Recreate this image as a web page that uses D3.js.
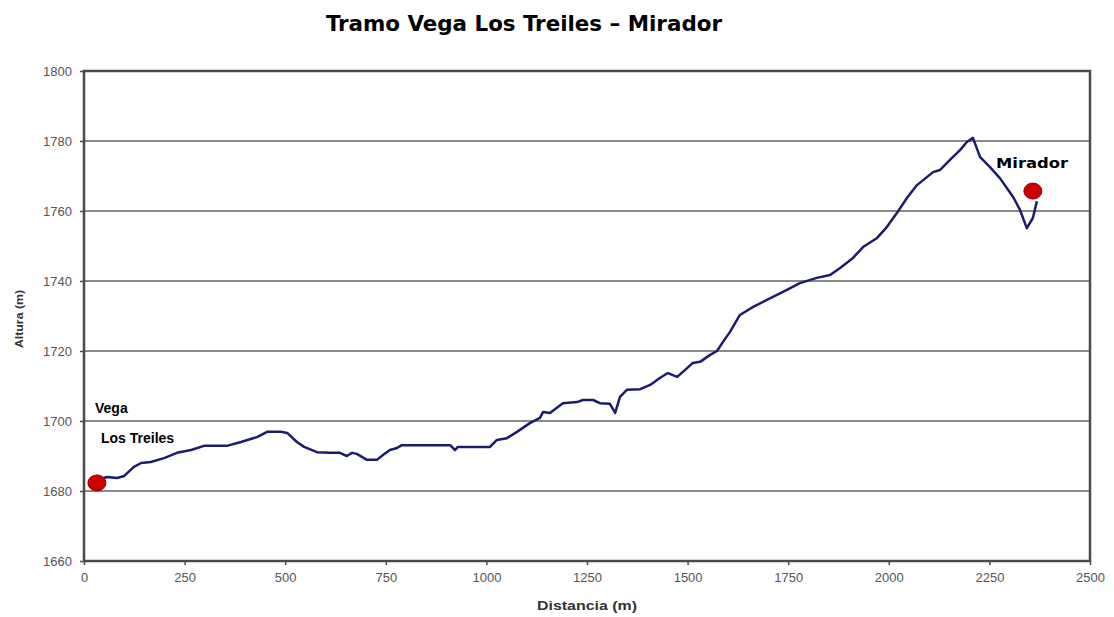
<!DOCTYPE html>
<html>
<head>
<meta charset="utf-8">
<script src="https://cdn.jsdelivr.net/npm/d3@7"></script>
<style>
  body { margin: 0; background: #fff; }
  svg { display: block; }
</style>
</head>
<body>
<svg></svg>
<script>
// profile: distance (m) and altitude (m)
var distancia = [32, 57, 82, 100, 124, 142, 166, 199, 231, 266, 298, 355, 390, 430, 455, 489, 505, 529, 547, 579, 611,
  636, 653, 666, 678, 703, 728, 743, 760, 778, 790, 910, 922, 929, 1009, 1026, 1051, 1076, 1108, 1133, 1141, 1158,
  1190, 1225, 1240, 1265, 1282, 1307, 1320, 1332, 1349, 1382, 1407, 1431, 1451, 1474, 1494, 1513, 1531, 1556, 1573,
  1588, 1605, 1630, 1663, 1697, 1737, 1779, 1821, 1854, 1879, 1911, 1936, 1971, 1995, 2020, 2045, 2070, 2110, 2127,
  2152, 2177, 2194, 2209, 2227, 2251, 2276, 2309, 2326, 2343, 2358, 2368];
var altura = [1683, 1684, 1683.7, 1684.3, 1686.9, 1688, 1688.3, 1689.4, 1690.9, 1691.7, 1692.9, 1692.9, 1694, 1695.4,
  1696.9, 1696.9, 1696.6, 1694, 1692.6, 1691.1, 1690.9, 1690.9, 1690, 1690.9, 1690.6, 1688.9, 1688.9, 1690.3, 1691.7,
  1692.3, 1693.1, 1693.1, 1691.7, 1692.6, 1692.6, 1694.6, 1695.1, 1696.9, 1699.4, 1700.9, 1702.6, 1702.3, 1705.1,
  1705.4, 1706, 1706, 1705.1, 1704.9, 1702.3, 1706.9, 1708.9, 1709.1, 1710.3, 1712.3, 1713.7, 1712.6, 1714.6, 1716.6,
  1716.9, 1718.9, 1720, 1722.6, 1725.4, 1730.3, 1732.6, 1734.6, 1736.9, 1739.4, 1740.9, 1741.7, 1743.7, 1746.6,
  1749.7, 1752.3, 1755.4, 1759.4, 1763.7, 1767.4, 1771.1, 1771.7, 1774.6, 1777.4, 1779.7, 1780.9, 1775.4, 1772.6,
  1769.4, 1764, 1760.3, 1755.1, 1758, 1762.8];

// start and end points
var puntos = [{d: 32, a: 1682.3}, {d: 2358, a: 1765.7}];

var xTicks = [0, 250, 500, 750, 1000, 1250, 1500, 1750, 2000, 2250, 2500];
var yTicks = [1660, 1680, 1700, 1720, 1740, 1760, 1780, 1800];

var svgWidth = 1114, svgHeight = 617;
var plotL = 84, plotR = 1090, plotT = 71, plotB = 561;

var svg = d3.select('svg')
    .attr('width', svgWidth)
    .attr('height', svgHeight);

var x = d3.scaleLinear().domain([0, 2500]).range([plotL, plotR]);
var y = d3.scaleLinear().domain([1660, 1800]).range([plotB, plotT]);

// gridlines
svg.selectAll('line.grid')
    .data(yTicks.slice(1, -1))
    .enter()
    .append('line')
    .attr('class', 'grid')
    .attr('x1', plotL).attr('x2', plotR)
    .attr('y1', function(d) { return y(d); })
    .attr('y2', function(d) { return y(d); })
    .attr('stroke', '#8a8a8a')
    .attr('stroke-width', 2);

// plot frame
svg.append('rect')
    .attr('x', plotL).attr('y', plotT)
    .attr('width', plotR - plotL).attr('height', plotB - plotT)
    .attr('fill', 'none')
    .attr('stroke', '#4a4a4a')
    .attr('stroke-width', 2.5);

// axes
var yAxis = svg.append('g')
    .attr('transform', 'translate(' + plotL + ',0)')
    .call(d3.axisLeft(y).tickValues(yTicks).tickSize(4).tickPadding(8).tickFormat(d3.format('d')));
var xAxis = svg.append('g')
    .attr('transform', 'translate(0,' + plotB + ')')
    .call(d3.axisBottom(x).tickValues(xTicks).tickSize(4).tickPadding(8).tickFormat(d3.format('d')));

[xAxis, yAxis].forEach(function(g) {
    g.select('.domain').remove();
    g.selectAll('line').attr('stroke', '#4a4a4a').attr('stroke-width', 1.5);
    g.selectAll('text')
        .attr('fill', '#555')
        .style('font-family', 'Liberation Sans, Arial, sans-serif')
        .style('font-size', '13px');
});

// profile line
var line = d3.line()
    .x(function(d, i) { return x(distancia[i]); })
    .y(function(d) { return y(d); });

svg.append('path')
    .datum(altura)
    .attr('d', line)
    .attr('fill', 'none')
    .attr('stroke', '#1c1c6e')
    .attr('stroke-width', 2.5)
    .attr('stroke-linejoin', 'round');

// red markers
svg.selectAll('ellipse')
    .data(puntos)
    .enter()
    .append('ellipse')
    .attr('cx', function(d) { return x(d.d); })
    .attr('cy', function(d) { return y(d.a); })
    .attr('rx', 9).attr('ry', 8)
    .attr('fill', '#cc0000')
    .attr('stroke', '#990000')
    .attr('stroke-width', 1);

// point labels
svg.append('text').attr('x', 95).attr('y', 413).text('Vega')
    .style('font', 'bold 14px Liberation Sans, Arial, sans-serif');
svg.append('text').attr('x', 101).attr('y', 443).text('Los Treiles')
    .style('font', 'bold 14px Liberation Sans, Arial, sans-serif');
svg.append('text').attr('x', 996).attr('y', 168).text('Mirador')
    .attr('textLength', 72)
    .attr('lengthAdjust', 'spacingAndGlyphs')
    .style('font', 'bold 14px DejaVu Sans Condensed, DejaVu Sans, sans-serif');

// title
svg.append('text')
    .attr('x', 524).attr('y', 31)
    .attr('text-anchor', 'middle')
    .attr('textLength', 396)
    .attr('lengthAdjust', 'spacingAndGlyphs')
    .style('font', 'bold 22px DejaVu Sans Condensed, DejaVu Sans, sans-serif')
    .text('Tramo Vega Los Treiles – Mirador');

// axis titles
svg.append('text')
    .attr('x', 587).attr('y', 610)
    .attr('text-anchor', 'middle')
    .attr('textLength', 100)
    .attr('lengthAdjust', 'spacingAndGlyphs')
    .style('font', 'bold 12px Liberation Sans, Arial, sans-serif')
    .attr('fill', '#333')
    .text('Distancia (m)');
svg.append('text')
    .attr('transform', 'translate(23,319) rotate(-90)')
    .attr('text-anchor', 'middle')
    .attr('textLength', 58)
    .attr('lengthAdjust', 'spacingAndGlyphs')
    .style('font', 'bold 11px Liberation Sans, Arial, sans-serif')
    .attr('fill', '#333')
    .text('Altura (m)');
</script>
</body>
</html>
